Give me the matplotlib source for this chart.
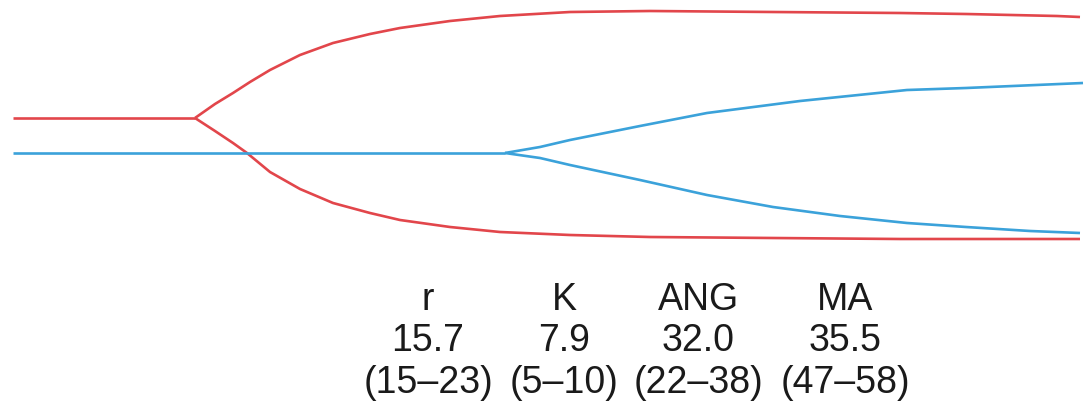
import matplotlib
matplotlib.use('Agg')
import matplotlib.pyplot as plt

# red lineage (splits first)
red_trunk_x = [13, 195]
red_trunk_y = [118, 118]
red_up_x = [195, 215, 233, 250, 270, 300, 333, 370, 400, 450, 500, 570, 650, 773, 900, 966, 1057, 1080]
red_up_y = [118, 104, 93, 82, 70, 55, 43, 34, 28, 21, 16, 12, 11, 12, 13, 14, 16, 17]
red_lo_x = [195, 215, 233, 247, 270, 300, 333, 370, 400, 450, 500, 570, 650, 773, 900, 966, 1080]
red_lo_y = [118, 131, 143, 153, 172, 189, 203, 213, 220, 227, 232, 235, 237, 238, 239, 239, 239]

# blue lineage (splits later)
blue_trunk_x = [13, 505]
blue_trunk_y = [153, 153]
blue_up_x = [505, 540, 570, 640, 707, 800, 907, 966, 1083]
blue_up_y = [153, 147, 140, 126, 113, 101, 90, 88, 83]
blue_lo_x = [505, 540, 570, 640, 707, 773, 840, 907, 966, 1030, 1080]
blue_lo_y = [153, 158, 165, 180, 195, 207, 216, 223, 227, 231, 233]

labels = ['r', 'K', 'ANG', 'MA']
means = ['15.7', '7.9', '32.0', '35.5']
ranges = ['(15–23)', '(5–10)', '(22–38)', '(47–58)']

col_x = [428, 564, 698, 845]
row_y = [310, 351, 393]

red = '#e2464b'
blue = '#3ba2da'

fig = plt.figure(figsize=(10.86, 4.08), dpi=100)
ax = fig.add_axes([0, 0, 1, 1])
ax.set_xlim(0, 1086)
ax.set_ylim(408, 0)
ax.axis('off')

for xs, ys in [(red_trunk_x, red_trunk_y), (red_up_x, red_up_y), (red_lo_x, red_lo_y)]:
    ax.plot(xs, ys, color=red, lw=1.9, solid_capstyle='butt', solid_joinstyle='round')
for xs, ys in [(blue_trunk_x, blue_trunk_y), (blue_up_x, blue_up_y), (blue_lo_x, blue_lo_y)]:
    ax.plot(xs, ys, color=blue, lw=1.9, solid_capstyle='butt', solid_joinstyle='round')

for i in range(len(labels)):
    for j, txt in enumerate([labels[i], means[i], ranges[i]]):
        ax.text(col_x[i], row_y[j], txt, ha='center', va='baseline',
                fontsize=27, family='Liberation Sans', color='#1a1a1a')

fig.savefig('out.png', dpi=100)
